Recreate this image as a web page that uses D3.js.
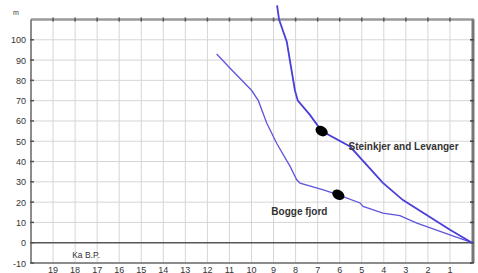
<!DOCTYPE html>
<html>
<head>
<meta charset="utf-8">
<script src="https://cdn.jsdelivr.net/npm/d3@7"></script>
<style>
  body { margin: 0; background: #fff; }
  text { font-family: Arial, "Liberation Sans", sans-serif; }
</style>
</head>
<body>
<svg id="chart" width="478" height="273"></svg>
<script>
// ages in ka B.P., sea level in m
const kaTicks = [19, 18, 17, 16, 15, 14, 13, 12, 11, 10, 9, 8, 7, 6, 5, 4, 3, 2, 1]
const mTicks = [-10, 0, 10, 20, 30, 40, 50, 60, 70, 80, 90, 100]

const steinkjer = [
  [8.84, 117], [8.75, 110], [8.4, 99], [8.03, 75], [7.9, 70], [7.35, 63],
  [6.82, 55], [5.53, 47.4], [4.04, 29.5], [3.13, 21], [1.0, 6.4], [0, 0]
]
const bogge = [
  [11.58, 93], [10.97, 86], [9.99, 75], [9.69, 70], [9.31, 59], [8.86, 49],
  [8.25, 37.6], [7.95, 31], [7.8, 29.4], [6.74, 26], [6.06, 23.6], [5.08, 19.6],
  [4.94, 17.9], [4.04, 14.6], [3.27, 13.3], [2.5, 9.7], [1.0, 3.9], [0, 0]
]
// dated points on each curve
const dots = [[6.82, 55], [6.06, 23.6]]
const labels = [
  {text: 'Steinkjer and Levanger', k: 5.6, m: 45.8},
  {text: 'Bogge fjord', k: 9.1, m: 13.8}
]

const svg = d3.select('#chart')
const x = d3.scaleLinear().domain([20, 0]).range([31, 472])
const y = d3.scaleLinear().domain([-10, 110]).range([263, 19.5])

// grid
svg.append('g')
  .selectAll('line')
  .data(kaTicks)
  .join('line')
  .attr('x1', d => x(d)).attr('x2', d => x(d))
  .attr('y1', y(110)).attr('y2', y(-10))
  .attr('stroke', '#d6d6d6')
  .attr('stroke-width', 1)

svg.append('g')
  .selectAll('line')
  .data(mTicks.concat([110]).filter(d => d != 0 && d != -10))
  .join('line')
  .attr('x1', x(20)).attr('x2', x(0))
  .attr('y1', d => y(d)).attr('y2', d => y(d))
  .attr('stroke', '#d6d6d6')
  .attr('stroke-width', 1)

// frame
svg.append('line')
  .attr('x1', x(20)).attr('x2', x(0) + 2)
  .attr('y1', y(110)).attr('y2', y(110))
  .attr('stroke', '#9a9a9a').attr('stroke-width', 2.5)
svg.append('line')
  .attr('x1', x(20)).attr('x2', x(0))
  .attr('y1', y(0)).attr('y2', y(0))
  .attr('stroke', '#555').attr('stroke-width', 1.5)
svg.append('line')
  .attr('x1', x(20)).attr('x2', x(0))
  .attr('y1', y(-10)).attr('y2', y(-10))
  .attr('stroke', '#666').attr('stroke-width', 1.5)
svg.append('line')
  .attr('x1', x(20)).attr('x2', x(20))
  .attr('y1', y(110)).attr('y2', y(-10))
  .attr('stroke', '#666').attr('stroke-width', 1.5)
svg.append('line')
  .attr('x1', x(0) + 1).attr('x2', x(0) + 1)
  .attr('y1', y(110)).attr('y2', y(-10))
  .attr('stroke', '#777').attr('stroke-width', 3)

// tick marks on top and left
svg.append('g')
  .selectAll('line')
  .data(kaTicks)
  .join('line')
  .attr('x1', d => x(d)).attr('x2', d => x(d))
  .attr('y1', y(110) - 2).attr('y2', y(110) + 2)
  .attr('stroke', '#555').attr('stroke-width', 1.5)
svg.append('g')
  .selectAll('line')
  .data(mTicks)
  .join('line')
  .attr('x1', x(20) - 1).attr('x2', x(20) + 3)
  .attr('y1', d => y(d)).attr('y2', d => y(d))
  .attr('stroke', '#555').attr('stroke-width', 1.5)
svg.append('g')
  .selectAll('line')
  .data(mTicks)
  .join('line')
  .attr('x1', x(0) - 2).attr('x2', x(0) + 2)
  .attr('y1', d => y(d)).attr('y2', d => y(d))
  .attr('stroke', '#444').attr('stroke-width', 1.5)

// tick labels
svg.append('g')
  .selectAll('text')
  .data(mTicks)
  .join('text')
  .attr('x', 26)
  .attr('y', d => y(d) + 3.5)
  .attr('text-anchor', 'end')
  .attr('font-size', 9)
  .attr('fill', '#333')
  .text(d => d)

svg.append('g')
  .selectAll('text')
  .data(kaTicks)
  .join('text')
  .attr('x', d => x(d))
  .attr('y', 273)
  .attr('text-anchor', 'middle')
  .attr('font-size', 9)
  .attr('fill', '#333')
  .text(d => d)

svg.append('text')
  .attr('x', 86).attr('y', 258)
  .attr('text-anchor', 'middle')
  .attr('font-size', 8.5)
  .attr('fill', '#333')
  .text('Ka B.P.')

svg.append('text')
  .attr('x', 16).attr('y', 15)
  .attr('text-anchor', 'middle')
  .attr('font-size', 7)
  .attr('fill', '#333')
  .text('m')

// curves
let line = d3.line().x(d => x(d[0])).y(d => y(d[1]))
svg.append('path')
  .datum(bogge)
  .attr('d', line)
  .attr('fill', 'none')
  .attr('stroke', '#5f55dc')
  .attr('stroke-width', 1.3)
svg.append('path')
  .datum(steinkjer)
  .attr('d', line)
  .attr('fill', 'none')
  .attr('stroke', '#4a3fd8')
  .attr('stroke-width', 1.8)

svg.append('g')
  .selectAll('ellipse')
  .data(dots)
  .join('ellipse')
  .attr('transform', d => `translate(${x(d[0])}, ${y(d[1])}) rotate(30)`)
  .attr('rx', 6.5)
  .attr('ry', 4.8)
  .attr('fill', '#000')

svg.append('g')
  .selectAll('text')
  .data(labels)
  .join('text')
  .attr('x', d => x(d.k))
  .attr('y', d => y(d.m))
  .attr('font-size', 10)
  .attr('font-weight', 'bold')
  .attr('fill', '#333')
  .text(d => d.text)
</script>
</body>
</html>
